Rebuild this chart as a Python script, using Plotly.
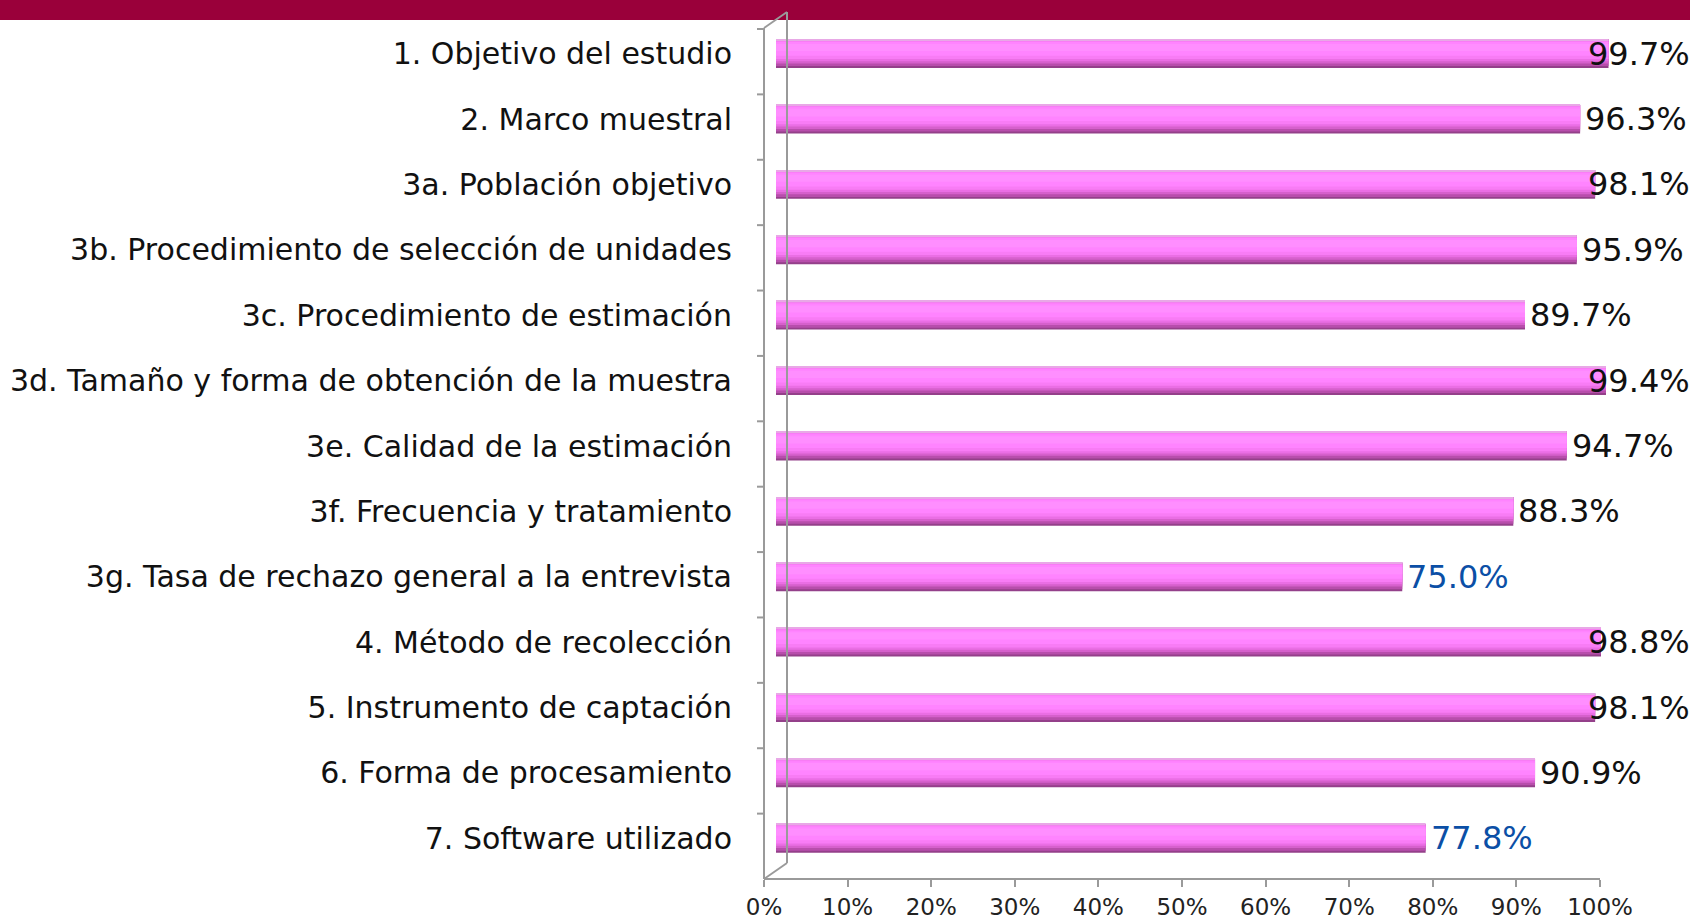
import plotly.graph_objects as go

categories = [
    "1. Objetivo del estudio",
    "2. Marco muestral",
    "3a. Población objetivo",
    "3b. Procedimiento de selección de unidades",
    "3c. Procedimiento de estimación",
    "3d. Tamaño y forma de obtención de la muestra",
    "3e. Calidad de la estimación",
    "3f. Frecuencia y tratamiento",
    "3g. Tasa de rechazo general a la entrevista",
    "4. Método de recolección",
    "5. Instrumento de captación",
    "6. Forma de procesamiento",
    "7. Software utilizado",
]
values = [99.7, 96.3, 98.1, 95.9, 89.7, 99.4, 94.7, 88.3, 75.0, 98.8, 98.1, 90.9, 77.8]
label_colors = ["#111111" if v >= 80 else "#0B4FA6" for v in values]
x_ticks = [i / 10 for i in range(11)]

W, H = 1690, 920
FONT = "DejaVu Sans"
def px(x):
    return x / W
def py(y):
    return 1 - y / H

fr = [v / 100 for v in values]
n = len(categories)

fig = go.Figure()
# cylinder-like layered bars (dark bottom -> light upper band)
layers = [
    ("#94408A", 0.44, -0.22),
    ("#B84EAC", 0.41, -0.22),
    ("#D660CC", 0.37, -0.22),
    ("#EA6EE4", 0.33, -0.215),
    ("#F87CF5", 0.28, -0.20),
    ("#FF84FF", 0.21, -0.18),
    ("#FF8EFF", 0.11, -0.15),
    ("#E8A8E6", 0.02, -0.22),
]
for col, w, off in layers:
    fig.add_trace(go.Bar(
        x=fr, y=categories, orientation="h",
        marker=dict(color=col, line=dict(width=0)),
        width=w, offset=off, hoverinfo="skip", showlegend=False,
    ))
# dummy trace to show the front axis
fig.add_trace(go.Scatter(x=[0, 1], y=[categories[0]] * 2, xaxis="x2", yaxis="y",
                         mode="markers", marker=dict(opacity=0), hoverinfo="skip",
                         showlegend=False))

# value labels
for v, f, c, col in zip(values, fr, categories, label_colors):
    fig.add_annotation(x=min(f, 0.967), y=c, xref="x", yref="y", text=f"{v:.1f}%",
                       showarrow=False, xanchor="left", xshift=3,
                       font=dict(family=FONT, size=32, color=col))

shapes = []
# top band
shapes.append(dict(type="rect", xref="paper", yref="paper", x0=0, x1=1,
                   y0=py(20), y1=1, fillcolor="#9A003A", line=dict(width=0), layer="below"))
grey = dict(color="#9A9A9A", width=2)
# 3D wall frame
shapes.append(dict(type="line", xref="paper", yref="paper", x0=px(764), y0=py(28), x1=px(764), y1=py(879), line=grey))
shapes.append(dict(type="line", xref="paper", yref="paper", x0=px(764), y0=py(28), x1=px(787), y1=py(12), line=grey))
shapes.append(dict(type="line", xref="paper", yref="paper", x0=px(787), y0=py(12), x1=px(787), y1=py(863), line=grey))
shapes.append(dict(type="line", xref="paper", yref="paper", x0=px(787), y0=py(863), x1=px(764), y1=py(879), line=grey))
# left tick marks at category boundaries
for i in range(n + 1):
    shapes.append(dict(type="line", xref="paper", yref="y", ysizemode="pixel",
                       yanchor=i - 0.5, y0=-8, y1=-8, x0=px(757), x1=px(764), line=grey))
fig.update_layout(shapes=shapes)

fig.update_layout(
    width=W, height=H,
    margin=dict(l=0, r=0, t=0, b=0, pad=0, autoexpand=False),
    paper_bgcolor="white", plot_bgcolor="rgba(0,0,0,0)",
    barmode="overlay",
    xaxis=dict(domain=[px(776), px(1611)], range=[0, 1], visible=False,
               fixedrange=True, automargin=False),
    xaxis2=dict(domain=[px(764), px(1600)], range=[0, 1], anchor="free", position=py(879),
                tickvals=x_ticks, tickformat=".0%", ticks="outside", ticklen=7,
                tickcolor="#9A9A9A", tickwidth=2, showline=True, linecolor="#9A9A9A",
                linewidth=2, showgrid=False, zeroline=False, automargin=False,
                tickfont=dict(family=FONT, size=23, color="#222222")),
    yaxis=dict(domain=[py(871), py(21)], type="category", categoryarray=categories,
               range=[n - 0.5, -0.5], showline=False, ticks="", showgrid=False,
               ticklabelstandoff=43, automargin=False,
               tickfont=dict(family=FONT, size=30, color="#111111")),
    showlegend=False,
)

fig.write_html("out.html", config={"displayModeBar": False},
               post_script="document.body.style.margin='0';document.body.style.overflow='hidden';")
